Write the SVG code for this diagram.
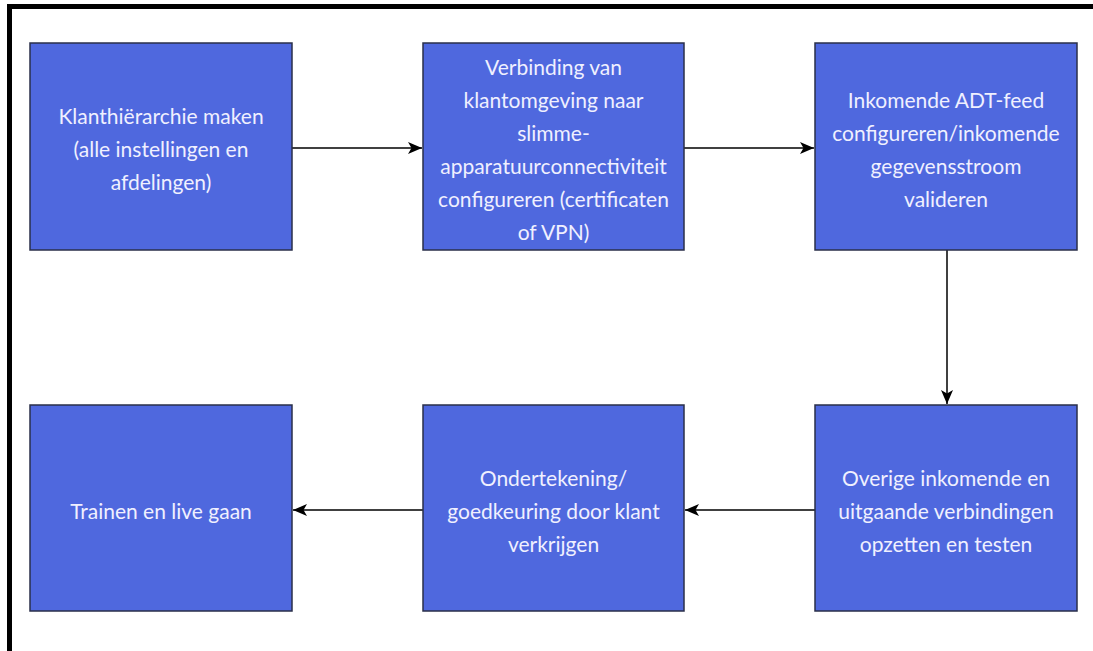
<svg xmlns="http://www.w3.org/2000/svg" width="1093" height="651" viewBox="0 0 1093 651">
<style>
.box{fill:#4f68de;stroke:#2a2f4a;stroke-width:1.5}
.t{font-family:Lato,"Open Sans","DejaVu Sans",sans-serif;font-size:21px;fill:#f0f0ff;text-anchor:middle;dominant-baseline:central}
.c{stroke:#000;stroke-width:1.5;fill:none;marker-end:url(#ah)}
</style>
<defs>
<marker id="ah" viewBox="0 0 14 12" refX="14" refY="6" markerWidth="14" markerHeight="12" markerUnits="userSpaceOnUse" orient="auto">
<path d="M0,0 L14,6 L0,12 L3.500,6 Z" fill="#000"/>
</marker>
</defs>
<rect width="1093" height="651" fill="#fff"/>
<g id="frame">
<line x1="7" y1="6.5" x2="1093" y2="6.5" stroke="#000" stroke-width="5"/>
<line x1="9.5" y1="4" x2="9.5" y2="651" stroke="#000" stroke-width="5"/>
</g>
<g id="connectors">
<line class="c" x1="292" y1="148" x2="422" y2="148"/>
<line class="c" x1="684" y1="148" x2="814" y2="148"/>
<line class="c" x1="947" y1="250" x2="947" y2="404"/>
<line class="c" x1="815" y1="510" x2="685" y2="510"/>
<line class="c" x1="423" y1="510" x2="293" y2="510"/>
</g>
<g id="n1">
<rect class="box" x="30" y="43" width="262" height="207"/>
<text class="t" x="161" y="115">Klanthiërarchie maken</text>
<text class="t" x="161" y="148">(alle instellingen en</text>
<text class="t" x="161" y="181">afdelingen)</text>
</g>
<g id="n2">
<rect class="box" x="423" y="43" width="261" height="207"/>
<text class="t" x="553.500" y="66">Verbinding van</text>
<text class="t" x="553.500" y="99">klantomgeving naar</text>
<text class="t" x="553.500" y="132">slimme-</text>
<text class="t" x="553.500" y="165">apparatuurconnectiviteit</text>
<text class="t" x="553.500" y="198">configureren (certificaten</text>
<text class="t" x="553.500" y="231">of VPN)</text>
</g>
<g id="n3">
<rect class="box" x="815" y="43" width="262" height="207"/>
<text class="t" x="946" y="99">Inkomende ADT-feed</text>
<text class="t" x="946" y="132">configureren/inkomende</text>
<text class="t" x="946" y="165">gegevensstroom</text>
<text class="t" x="946" y="198">valideren</text>
</g>
<g id="n4">
<rect class="box" x="30" y="405" width="262" height="206"/>
<text class="t" x="161" y="510">Trainen en live gaan</text>
</g>
<g id="n5">
<rect class="box" x="423" y="405" width="261" height="206"/>
<text class="t" x="553.500" y="477">Ondertekening/</text>
<text class="t" x="553.500" y="510">goedkeuring door klant</text>
<text class="t" x="553.500" y="543">verkrijgen</text>
</g>
<g id="n6">
<rect class="box" x="815" y="405" width="262" height="206"/>
<text class="t" x="946" y="477">Overige inkomende en</text>
<text class="t" x="946" y="510">uitgaande verbindingen</text>
<text class="t" x="946" y="543">opzetten en testen</text>
</g>
</svg>
